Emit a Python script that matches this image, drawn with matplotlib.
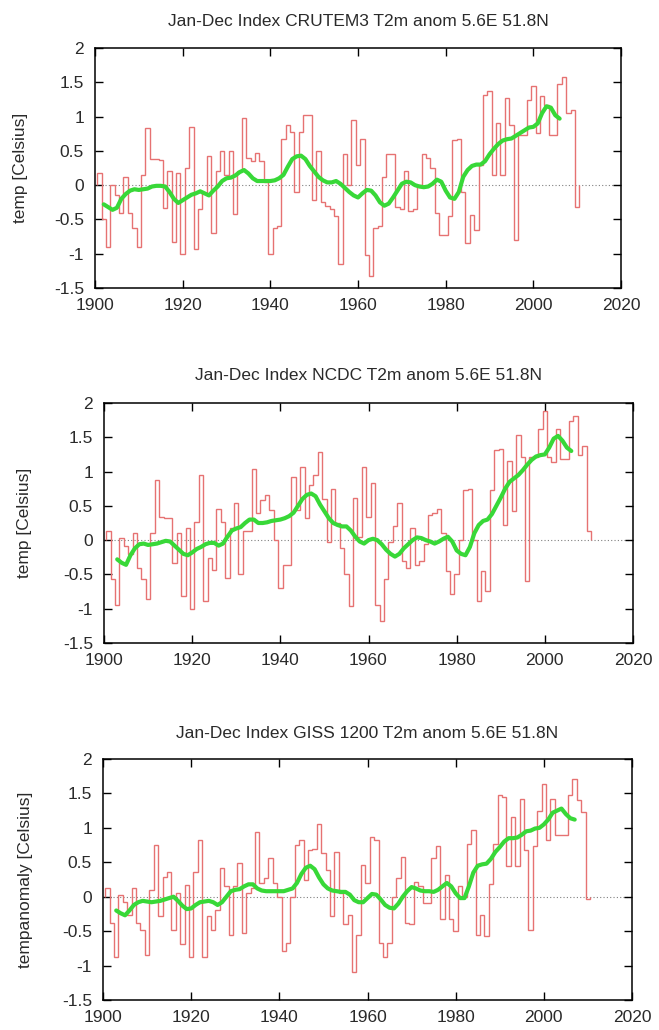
import numpy as np
import matplotlib.pyplot as plt

plt.rcParams['font.family'] = ['Liberation Sans', 'DejaVu Sans']

# annual values 1901-2010
years = np.arange(1901, 2011)

crutem3 = [0.18, -0.50, -0.90, 0.00, -0.15, -0.40, 0.12, -0.40, -0.63, -0.90,
           0.15, 0.83, 0.38, 0.38, 0.36, -0.33, 0.20, -0.83, 0.17, -1.00,
           0.25, 0.85, -0.93, -0.35, -0.12, 0.42, -0.70, 0.20, 0.50, 0.15,
           0.50, -0.42, 0.20, 0.98, 0.40, 0.35, 0.47, 0.35, 0.05, -1.00,
           -0.62, -0.60, 0.68, 0.88, 0.78, -0.10, 0.78, 1.02, 1.02, -0.22,
           0.50, -0.25, -0.30, -0.35, -0.45, -1.15, 0.46, 0.00, 0.95, 0.30,
           0.68, -1.02, -1.32, -0.63, -0.60, 0.12, 0.46, 0.46, -0.32, -0.35,
           0.20, -0.37, -0.35, 0.00, 0.45, 0.40, 0.25, -0.40, -0.73, -0.73,
           -0.45, 0.66, 0.68, -0.10, -0.85, -0.44, -0.66, 0.30, 1.32, 1.37,
           0.15, 0.90, 0.15, 1.27, 0.88, -0.80, 0.73, 0.73, 1.24, 1.44,
           0.76, 1.30, 1.17, 0.73, 0.73, 1.47, 1.58, 1.05, 1.10, -0.32]

ncdc = [0.13, -0.57, -0.94, 0.03, -0.09, -0.20, 0.10, -0.40, -0.57, -0.86,
        0.10, 0.87, 0.34, 0.32, 0.32, -0.33, 0.10, -0.82, 0.17, -1.00,
        0.27, 0.95, -0.89, -0.26, -0.43, 0.46, 0.27, -0.55, 0.17, 0.54,
        -0.50, 0.13, 0.13, 1.04, 0.39, 0.58, 0.66, 0.44, 0.00, -0.70,
        -0.36, -0.36, 0.92, 0.44, 1.07, 0.32, 0.80, 0.95, 1.29, 0.60,
        -0.02, 0.75, 0.25, -0.12, -0.50, -0.96, 0.61, 0.05, 1.07, 0.34,
        0.83, -0.94, -1.18, -0.57, -0.02, 0.20, 0.54, -0.31, -0.40, 0.17,
        -0.36, -0.31, -0.05, 0.37, 0.40, 0.46, 0.10, -0.45, -0.79, -0.50,
        0.00, 0.73, 0.75, 0.00, -0.89, -0.45, -0.74, 0.73, 1.31, 1.33,
        0.22, 1.16, 0.42, 1.53, 1.21, -0.60, 1.21, 1.21, 1.62, 1.89,
        1.21, 1.14, 1.62, 1.19, 1.19, 1.74, 1.81, 1.24, 1.38, 0.13]

giss = [0.12, -0.38, -0.88, 0.03, -0.07, -0.26, 0.12, -0.38, -0.48, -0.84,
        0.10, 0.75, -0.28, 0.29, 0.36, -0.48, 0.05, -0.69, 0.17, -0.88,
        0.36, 0.83, -0.88, -0.28, -0.48, -0.20, 0.41, 0.15, -0.55, 0.15,
        0.49, -0.52, 0.05, 0.12, 0.94, 0.20, 0.27, 0.56, 0.20, 0.00,
        -0.79, -0.67, 0.00, 0.75, 0.82, 0.25, 0.68, 0.70, 1.06, 0.63,
        0.39, -0.28, 0.65, 0.05, -0.40, -0.26, -1.10, -0.55, 0.46, 0.20,
        0.87, 0.82, -0.67, -0.88, -0.67, 0.00, 0.27, 0.58, -0.38, -0.40,
        0.22, 0.16, -0.09, -0.09, 0.56, 0.73, -0.33, 0.32, -0.33, -0.50,
        0.15, 0.00, 0.77, 0.97, -0.55, -0.26, -0.57, 0.18, 0.77, 1.47,
        1.45, 0.44, 1.16, 0.44, 1.42, 0.68, -0.48, 0.73, 1.25, 1.64,
        0.82, 1.42, 0.89, 0.89, 0.89, 1.47, 1.71, 1.40, 1.23, -0.04]

# smoothed curves (green), also
crutem3_sm_years = np.arange(1902, 2007)
crutem3_sm = [-0.28, -0.32, -0.36, -0.33, -0.20, -0.13, -0.08, -0.06, -0.07, -0.06,
              -0.05, -0.02, -0.01, -0.01, -0.02, -0.10, -0.20, -0.26, -0.22, -0.18,
              -0.14, -0.12, -0.09, -0.12, -0.15, -0.08, -0.02, 0.06, 0.10, 0.11,
              0.14, 0.19, 0.22, 0.17, 0.10, 0.06, 0.06, 0.06, 0.06, 0.07,
              0.10, 0.15, 0.27, 0.38, 0.42, 0.43, 0.38, 0.28, 0.20, 0.12,
              0.07, 0.04, 0.04, 0.06, 0.02, -0.04, -0.10, -0.15, -0.18, -0.12,
              -0.07, -0.08, -0.15, -0.25, -0.30, -0.27, -0.18, -0.08, 0.02, 0.05,
              0.04, 0.00, -0.02, -0.03, -0.02, 0.02, 0.08, 0.05, -0.08, -0.18,
              -0.20, -0.10, 0.12, 0.22, 0.28, 0.30, 0.30, 0.35, 0.45, 0.53,
              0.60, 0.65, 0.67, 0.68, 0.72, 0.76, 0.80, 0.84, 0.85, 0.90,
              1.05, 1.15, 1.13, 1.02, 0.97]

ncdc_sm_years = np.arange(1903, 2007)
ncdc_sm = [-0.28, -0.33, -0.36, -0.22, -0.12, -0.06, -0.05, -0.07, -0.06, -0.05,
           -0.03, -0.01, -0.02, -0.08, -0.14, -0.20, -0.22, -0.18, -0.13, -0.10,
           -0.06, -0.04, -0.04, -0.08, -0.05, 0.05, 0.14, 0.17, 0.19, 0.25,
           0.30, 0.30, 0.25, 0.25, 0.26, 0.28, 0.29, 0.30, 0.32, 0.35,
           0.40, 0.50, 0.60, 0.66, 0.68, 0.64, 0.52, 0.42, 0.32, 0.25,
           0.22, 0.20, 0.20, 0.14, 0.05, -0.02, -0.05, 0.00, 0.02, 0.00,
           -0.06, -0.14, -0.20, -0.24, -0.20, -0.12, -0.06, 0.00, 0.04, 0.03,
           0.00, -0.02, -0.05, -0.02, 0.02, 0.05, -0.02, -0.15, -0.20, -0.22,
           -0.10, 0.10, 0.22, 0.28, 0.30, 0.38, 0.50, 0.62, 0.75, 0.85,
           0.90, 0.95, 1.02, 1.10, 1.17, 1.22, 1.24, 1.25, 1.35, 1.48,
           1.52, 1.45, 1.35, 1.30]

giss_sm_years = np.arange(1903, 2008)
giss_sm = [-0.20, -0.24, -0.27, -0.20, -0.12, -0.08, -0.06, -0.07, -0.08, -0.07,
           -0.06, -0.04, -0.02, 0.00, -0.06, -0.13, -0.18, -0.17, -0.12, -0.08,
           -0.07, -0.06, -0.08, -0.12, -0.08, 0.00, 0.08, 0.10, 0.11, 0.15,
           0.18, 0.18, 0.12, 0.09, 0.08, 0.08, 0.08, 0.08, 0.08, 0.10,
           0.12, 0.20, 0.33, 0.42, 0.45, 0.40, 0.28, 0.18, 0.12, 0.09,
           0.08, 0.07, 0.07, 0.03, -0.05, -0.08, -0.08, -0.02, 0.04, 0.03,
           -0.04, -0.12, -0.16, -0.17, -0.10, 0.00, 0.08, 0.14, 0.12, 0.09,
           0.08, 0.08, 0.07, 0.10, 0.15, 0.20, 0.15, 0.05, -0.02, -0.02,
           0.15, 0.35, 0.45, 0.47, 0.48, 0.55, 0.65, 0.72, 0.80, 0.85,
           0.85, 0.86, 0.90, 0.95, 0.96, 0.99, 1.00, 1.05, 1.12, 1.22,
           1.25, 1.28, 1.20, 1.14, 1.12]

titles = ['Jan-Dec Index CRUTEM3 T2m anom 5.6E 51.8N',
          'Jan-Dec Index NCDC T2m anom 5.6E 51.8N',
          'Jan-Dec Index GISS 1200 T2m anom 5.6E 51.8N']
ylabels = ['temp [Celsius]', 'temp [Celsius]', 'tempanomaly [Celsius]']
yticks = [-1.5, -1, -0.5, 0, 0.5, 1, 1.5, 2]
ytick_labels = ['-1.5', '-1', '-0.5', '0', '0.5', '1', '1.5', '2']

W, H = 659, 1030
# axes boxes in pixels: left, right, top, bottom
boxes = [(95, 621, 48, 288), (104, 633, 403, 643), (103, 632, 759, 1000)]
title_y = [21, 375, 733]
ylabel_x = [21, 25, 26]

series = [(crutem3, crutem3_sm_years, crutem3_sm),
          (ncdc, ncdc_sm_years, ncdc_sm),
          (giss, giss_sm_years, giss_sm)]

text_color = '#2a2a2a'
fig = plt.figure(figsize=(W / 100, H / 100), dpi=100)

for i, (vals, sm_x, sm_y) in enumerate(series):
    l, r, t, b = boxes[i]
    ax = fig.add_axes([l / W, 1 - b / H, (r - l) / W, (b - t) / H])

    ax.axhline(0, color='#808080', lw=0.8, ls=(0, (1, 2)), zorder=1)
    edges = np.append(years - 0.5, years[-1] + 0.5)
    ax.stairs(vals, edges, color='#e67272', lw=1.0, zorder=2)
    ax.plot(sm_x, sm_y, color='#38d838', lw=3.0, zorder=3, solid_capstyle='round')

    ax.set_xlim(1900, 2020)
    ax.set_ylim(-1.5, 2)
    ax.set_xticks(range(1900, 2021, 20))
    ax.set_yticks(yticks)
    ax.set_yticklabels(ytick_labels)
    ax.tick_params(direction='in', length=6, width=1.0, top=True, right=True,
                   labelsize=12.5, labelcolor=text_color)
    ax.tick_params(axis='x', pad=7)
    ax.tick_params(axis='y', pad=8)
    for s in ax.spines.values():
        s.set_linewidth(1.1)

    fig.text((l + r) / 2 / W, 1 - title_y[i] / H, titles[i], ha='center', va='center',
             fontsize=12.5, color=text_color)
    fig.text(ylabel_x[i] / W, 1 - (t + b) / 2 / H, ylabels[i], rotation=90,
             ha='center', va='center', fontsize=12.5, color=text_color)

fig.savefig('out.png', dpi=100)
